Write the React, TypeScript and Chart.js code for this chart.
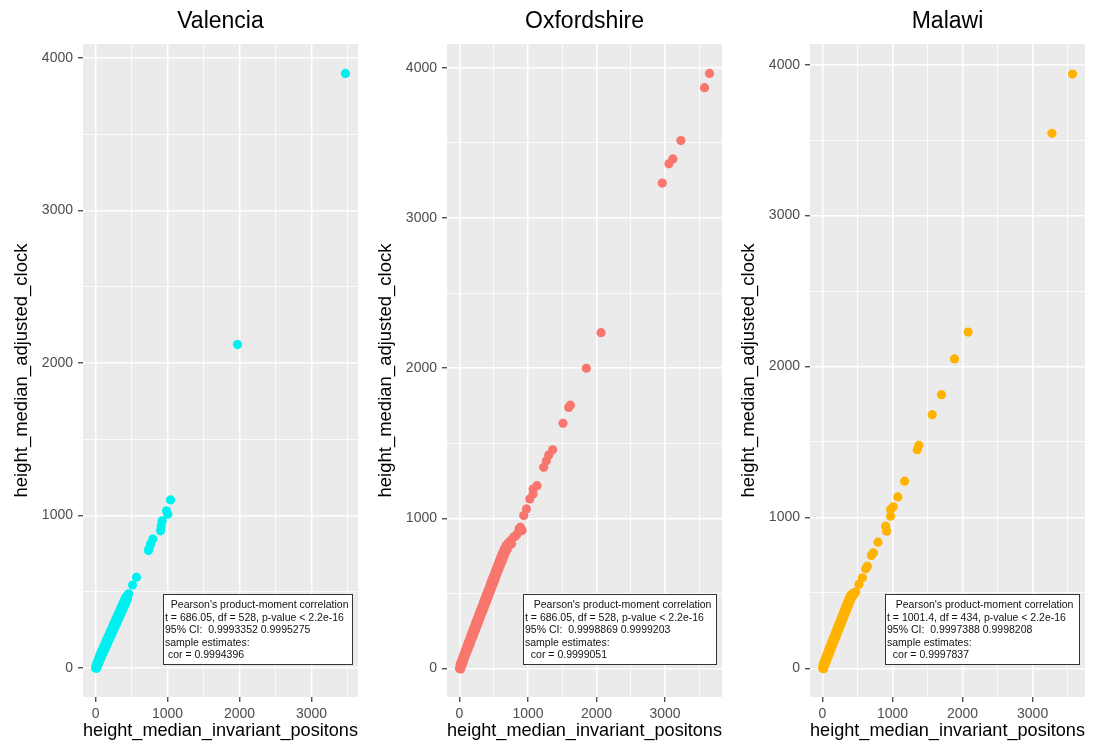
import React, { useEffect, useRef } from 'react';
import { Chart, registerables } from 'chart.js';

Chart.register(...registerables);

const FONT = '"Liberation Sans", Arial, Helvetica, sans-serif';

const PANEL_TITLES = ['Valencia', 'Oxfordshire', 'Malawi'];
const X_LABEL = 'height_median_invariant_positons';
const Y_LABEL = 'height_median_adjusted_clock';
const X_TICKS = [0, 500, 1000, 1500, 2000, 2500, 3000, 3500];
const Y_TICKS = [0, 500, 1000, 1500, 2000, 2500, 3000, 3500, 4000];
const COLORS = ['#00F0F0', '#F8766D', '#FFB300'];

const VALENCIA_POINTS: [number, number][] = [
  [0, 0], [8, 20], [15, -2], [25, 40], [32, 18], [42, 60], [50, 38], [58, 82], [66, 55], [75, 100],
  [84, 74], [92, 118], [100, 92], [110, 138], [118, 112], [126, 156], [135, 128], [143, 172], [152, 146],
  [160, 192], [168, 162], [178, 210], [186, 182], [195, 228], [203, 200], [212, 246], [220, 216], [230, 264],
  [238, 236], [246, 282], [255, 252], [263, 300], [272, 270], [280, 318], [290, 288], [298, 336], [306, 306],
  [315, 354], [323, 324], [332, 372], [340, 342], [350, 390], [358, 360], [366, 408], [375, 378], [384, 426],
  [392, 396], [400, 444], [410, 414], [418, 462], [426, 434], [436, 470], [444, 452], [452, 480], [460, 486],
  [514, 544], [569, 595], [735, 770], [741, 780], [764, 812], [796, 845], [903, 899], [912, 932], [926, 965],
  [986, 1030], [1004, 1008], [1042, 1102], [1972, 2120], [3472, 3897],
];

const OXFORDSHIRE_POINTS: [number, number][] = [
  [0, 0], [10, 26], [18, -4], [28, 48], [36, 20], [46, 72], [55, 42], [64, 95], [72, 66], [82, 116],
  [90, 88], [100, 138], [108, 110], [118, 160], [126, 130], [136, 182], [145, 152], [154, 204], [162, 172],
  [172, 226], [180, 194], [190, 246], [198, 214], [208, 268], [216, 236], [226, 290], [234, 256], [244, 312],
  [252, 278], [262, 334], [270, 300], [280, 356], [288, 320], [298, 378], [306, 342], [316, 398], [324, 364],
  [334, 420], [342, 384], [352, 442], [360, 406], [370, 464], [378, 426], [388, 486], [396, 448], [406, 506],
  [414, 470], [424, 528], [432, 490], [442, 550], [450, 512], [460, 572], [468, 534], [478, 592], [486, 556],
  [496, 614], [504, 576], [514, 636], [522, 598], [532, 658], [540, 620], [550, 678], [558, 642], [568, 700],
  [576, 662], [586, 720], [594, 684], [604, 742], [612, 704], [622, 762], [630, 724], [640, 782], [650, 748],
  [660, 800], [672, 770], [684, 818], [696, 792], [710, 835], [724, 818], [743, 850], [760, 830], [790, 875],
  [815, 880], [841, 896], [870, 930], [889, 941], [914, 918], [938, 1018], [977, 1062], [1026, 1129],
  [1074, 1162], [1074, 1195], [1132, 1217], [1229, 1339], [1268, 1383], [1302, 1421], [1360, 1456],
  [1511, 1632], [1594, 1738], [1618, 1753], [1851, 1999], [2066, 2236], [2959, 3232], [3057, 3360],
  [3115, 3393], [3232, 3515], [3576, 3867], [3649, 3962],
];

const MALAWI_POINTS: [number, number][] = [
  [0, 0], [8, 22], [16, -2], [25, 44], [33, 20], [42, 66], [50, 40], [60, 88], [68, 62], [78, 108],
  [86, 84], [95, 130], [104, 104], [113, 152], [122, 126], [131, 172], [140, 148], [149, 194], [158, 168],
  [167, 214], [176, 190], [185, 236], [194, 210], [203, 256], [212, 232], [221, 278], [230, 252], [239, 298],
  [248, 274], [257, 320], [266, 294], [275, 340], [284, 316], [293, 362], [302, 336], [311, 382], [320, 358],
  [329, 404], [338, 378], [347, 424], [356, 400], [365, 446], [374, 420], [383, 466], [392, 442], [401, 482],
  [410, 462], [420, 490], [430, 476], [440, 498], [450, 490], [475, 505], [521, 556], [570, 600], [617, 660],
  [641, 677], [698, 748], [726, 766], [792, 836], [902, 942], [916, 909], [973, 1008], [973, 1052],
  [1011, 1070], [1077, 1136], [1172, 1240], [1353, 1449], [1376, 1478], [1567, 1681], [1699, 1813],
  [1885, 2050], [2080, 2228], [3276, 3545], [3570, 3938],
];

const VALENCIA_STATS = [
  "  Pearson's product-moment correlation",
  't = 686.05, df = 528, p-value < 2.2e-16',
  '95% CI:  0.9993352 0.9995275',
  'sample estimates:',
  ' cor = 0.9994396',
];
const OXFORDSHIRE_STATS = [
  "   Pearson's product-moment correlation",
  't = 686.05, df = 528, p-value < 2.2e-16',
  '95% CI:  0.9998869 0.9999203',
  'sample estimates:',
  '  cor = 0.9999051',
];
const MALAWI_STATS = [
  "   Pearson's product-moment correlation",
  't = 1001.4, df = 434, p-value < 2.2e-16',
  '95% CI:  0.9997388 0.9998208',
  'sample estimates:',
  '  cor = 0.9997837',
];

const X_RANGES: [number, number][] = [[-174, 3646], [-182, 3831], [-178, 3748]];
const Y_RANGES: [number, number][] = [[-190, 4090], [-190, 4158], [-190, 4137]];

const PANELS = [
  { points: VALENCIA_POINTS, stats: VALENCIA_STATS, left: 0, width: 365, yAxisWidth: 83, padRight: 7, yTitlePad: 11, boxW: 189 },
  { points: OXFORDSHIRE_POINTS, stats: OXFORDSHIRE_STATS, left: 365, width: 365, yAxisWidth: 82, padRight: 8, yTitlePad: 10, boxW: 193 },
  { points: MALAWI_POINTS, stats: MALAWI_STATS, left: 730, width: 379, yAxisWidth: 80, padRight: 24, yTitlePad: 8, boxW: 194 },
];

const isMajor = (v: number) => v % 1000 === 0;

function Panel({ idx }: { idx: number }) {
  const ref = useRef<HTMLCanvasElement | null>(null);
  const p = PANELS[idx];

  useEffect(() => {
    const canvas = ref.current;
    if (!canvas) return;
    const title = PANEL_TITLES[idx];
    const stats = p.stats;
    const overlay = {
      id: 'overlay' + idx,
      beforeDraw(chart: any) {
        const { ctx, chartArea: a } = chart;
        ctx.save();
        ctx.fillStyle = '#EBEBEB';
        ctx.fillRect(a.left, a.top, a.right - a.left, a.bottom - a.top);
        ctx.restore();
      },
      afterDraw(chart: any) {
        const { ctx, chartArea: a } = chart;
        ctx.save();
        ctx.fillStyle = '#000000';
        ctx.font = `23px ${FONT}`;
        ctx.textAlign = 'center';
        ctx.textBaseline = 'alphabetic';
        ctx.fillText(title, (a.left + a.right) / 2, 28);

        const boxRight = a.right - 6;
        const boxLeft = boxRight - p.boxW;
        const boxBottom = a.bottom - 33;
        const boxTop = boxBottom - 70;
        ctx.fillStyle = '#FFFFFF';
        ctx.fillRect(boxLeft, boxTop, boxRight - boxLeft, boxBottom - boxTop);
        ctx.strokeStyle = '#333333';
        ctx.lineWidth = 1;
        ctx.strokeRect(Math.round(boxLeft) + 0.5, Math.round(boxTop) + 0.5, Math.round(boxRight - boxLeft), Math.round(boxBottom - boxTop));
        ctx.fillStyle = '#111111';
        ctx.font = `10.5px ${FONT}`;
        ctx.textAlign = 'left';
        ctx.textBaseline = 'middle';
        stats.forEach((line, i) => {
          ctx.fillText(line, boxLeft + 2, boxTop + 11.5 + i * 12.5);
        });
        ctx.restore();
      },
    };

    const tickFont = { family: FONT, size: 14 };
    const titleFont = { family: FONT, size: 18.5, lineHeight: 1.2 };
    const gridCommon = {
      color: '#FFFFFF',
      lineWidth: (c: any) => (c.tick && isMajor(c.tick.value) ? 1.5 : 0.8),
      tickLength: 5,
      tickWidth: 1.2,
      tickColor: (c: any) => (c.tick && isMajor(c.tick.value) ? '#333333' : 'rgba(0,0,0,0)'),
      drawTicks: true,
    };

    const chart = new Chart(canvas, {
      type: 'scatter',
      data: {
        datasets: [
          {
            data: p.points.map(([x, y]) => ({ x, y })),
            backgroundColor: COLORS[idx],
            borderWidth: 0,
            pointRadius: 4.6,
            pointHoverRadius: 4.6,
          },
        ],
      },
      options: {
        animation: false,
        responsive: false,
        maintainAspectRatio: false,
        events: [],
        layout: { padding: { top: 44, right: p.padRight, left: 0, bottom: 0 } },
        plugins: {
          legend: { display: false },
          tooltip: { enabled: false },
          title: { display: false },
        },
        scales: {
          x: {
            type: 'linear',
            min: X_RANGES[idx][0],
            max: X_RANGES[idx][1],
            afterBuildTicks: (axis: any) => {
              axis.ticks = X_TICKS.map((v) => ({ value: v }));
            },
            afterFit: (s: any) => {
              s.height = 50;
            },
            ticks: {
              autoSkip: false,
              maxRotation: 0,
              color: '#4D4D4D',
              font: tickFont,
              padding: 3.5,
              callback: (v: any) => (isMajor(Number(v)) ? String(v) : ''),
            },
            grid: gridCommon,
            border: { display: false },
            title: {
              display: true,
              text: X_LABEL,
              color: '#000000',
              font: titleFont,
              padding: { top: 0, bottom: 5.3 },
            },
          },
          y: {
            type: 'linear',
            min: Y_RANGES[idx][0],
            max: Y_RANGES[idx][1],
            afterBuildTicks: (axis: any) => {
              axis.ticks = Y_TICKS.map((v) => ({ value: v }));
            },
            afterFit: (s: any) => {
              s.width = p.yAxisWidth;
            },
            ticks: {
              autoSkip: false,
              color: '#4D4D4D',
              font: tickFont,
              padding: 5,
              callback: (v: any) => (isMajor(Number(v)) ? String(v) : ''),
            },
            grid: gridCommon,
            border: { display: false },
            title: {
              display: true,
              text: Y_LABEL,
              color: '#000000',
              font: titleFont,
              padding: { top: p.yTitlePad, bottom: 0 },
            },
          },
        },
      } as any,
      plugins: [overlay],
    });
    return () => chart.destroy();
  }, [idx]);

  return (
    <canvas
      ref={ref}
      width={p.width}
      height={747}
      style={{ position: 'absolute', left: p.left, top: 0, width: p.width, height: 747 }}
    />
  );
}

export default function App() {
  return (
    <div style={{ position: 'fixed', left: 0, top: 0, width: 1109, height: 747, background: '#FFFFFF', overflow: 'hidden' }}>
      <Panel idx={0} />
      <Panel idx={1} />
      <Panel idx={2} />
    </div>
  );
}
